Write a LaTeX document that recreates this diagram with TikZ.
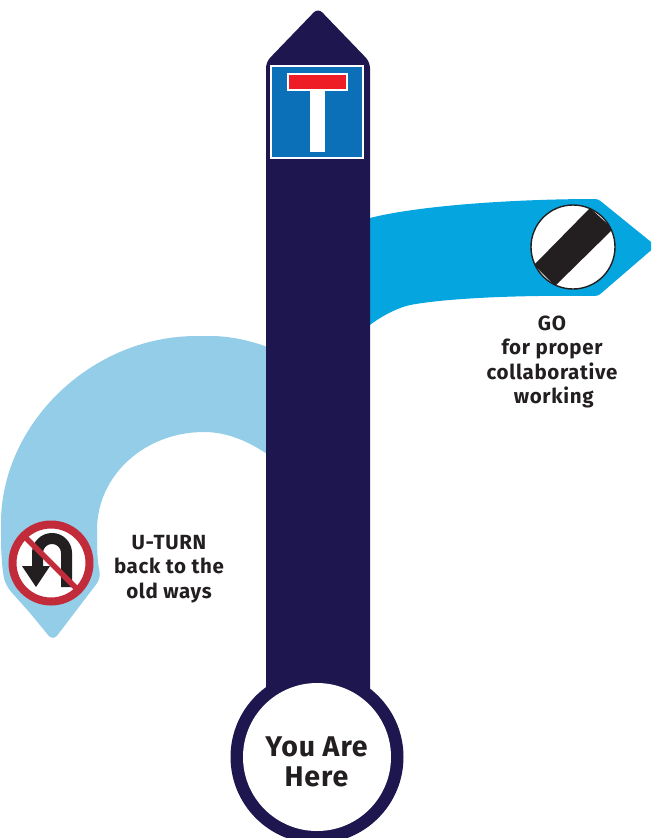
\documentclass[tikz,border=0pt]{standalone}
\usepackage{fontspec}
\setmainfont{Fira Sans}[BoldFont={Fira Sans Bold},BoldFeatures={LetterSpace=3.2}]
\definecolor{navy}{HTML}{1E174F}
\definecolor{skyb}{HTML}{05A5E0}
\definecolor{paleb}{HTML}{94CDE8}
\definecolor{signb}{HTML}{0B70B8}
\definecolor{signr}{HTML}{EE1C25}
\definecolor{ringr}{HTML}{C22B39}
\definecolor{ink}{HTML}{231F20}
\tikzset{
  lbl/.style={text=ink,font=\bfseries\fontsize{20.5}{24.6}\selectfont,align=center,inner sep=0pt},
  lblbig/.style={text=ink,font=\bfseries\fontsize{28.5}{30}\selectfont,align=center,inner sep=0pt},
}
\begin{document}
\begin{tikzpicture}[x=1pt,y=-1pt]
\useasboundingbox (0,0) rectangle (651,838);
\clip (0,0) rectangle (651,838);
% pale U-turn arrow
\fill[paleb,rounded corners=7pt] (270,348) .. controls (250,340) and (228,336) .. (204,336)
  .. controls (90,336) and (1,425) .. (1,530)
  .. controls (1,550) and (2,570) .. (6,586)
  [rounded corners=3pt] -- (30,613) [rounded corners=7pt] -- (53,641) -- (101,578)
  [sharp corners] .. controls (97,560) and (97,545) .. (97,530)
  .. controls (97,475) and (145,432) .. (204,432)
  .. controls (228,432) and (250,442) .. (270,456) -- cycle;
% bright GO arrow
\fill[skyb,rounded corners=3pt] (366,219) .. controls (420,205) and (520,199) .. (598,199)
  -- (656,246) -- (598,296)
  .. controls (520,295) and (450,298) .. (410,305)
  .. controls (395,309) and (380,317) .. (366,328) -- cycle;
% stem
\fill[navy,rounded corners=6pt] (266,720) -- (266,62) -- (318,8) -- (370,62) -- (370,720) -- cycle;
% dead-end sign
\fill[white] (270,65) rectangle (364,159);
\fill[signb] (272,67) rectangle (362,157);
\fill[white] (310,85) rectangle (325,152);
\fill[white] (287,73) rectangle (348,91);
\fill[signr] (289,75) rectangle (346,89);
% no-limit sign
\begin{scope}
\clip (573,247) circle (42);
\fill[white] (573,247) circle (42);
\fill[ink] (590,208) -- (613,229) -- (555,286) -- (534,265) -- cycle;
\end{scope}
\draw[ink,line width=1.4pt] (573,247) circle (42);
% u-turn sign
\fill[white] (51,563) circle (39);
\draw[ink,line width=11pt] (66.5,587) -- (66.5,553) .. controls (66.5,545) and (60,538.5) .. (52,538.5) .. controls (44,538.5) and (37.5,545) .. (37.5,553) -- (37.5,570);
\fill[ink] (22,566) -- (50,566) -- (36,587) -- cycle;
\draw[ringr,line width=8pt] (51,563) circle (38.5);
\draw[ringr,line width=5.5pt] (24,536) -- (78,590);
% round base
\fill[navy] (317,757) circle (86.5);
\fill[white] (317,757) circle (74);
% labels
\node[lbl] (go) at (552,362) {GO\\for proper\\collaborative\\\,working};
\node[lbl] (uturn) at (169,569) {U-TURN\\back to the\\old ways};
\node[lblbig] (here) at (316.5,762) {You Are\\Here};
\end{tikzpicture}
\end{document}
